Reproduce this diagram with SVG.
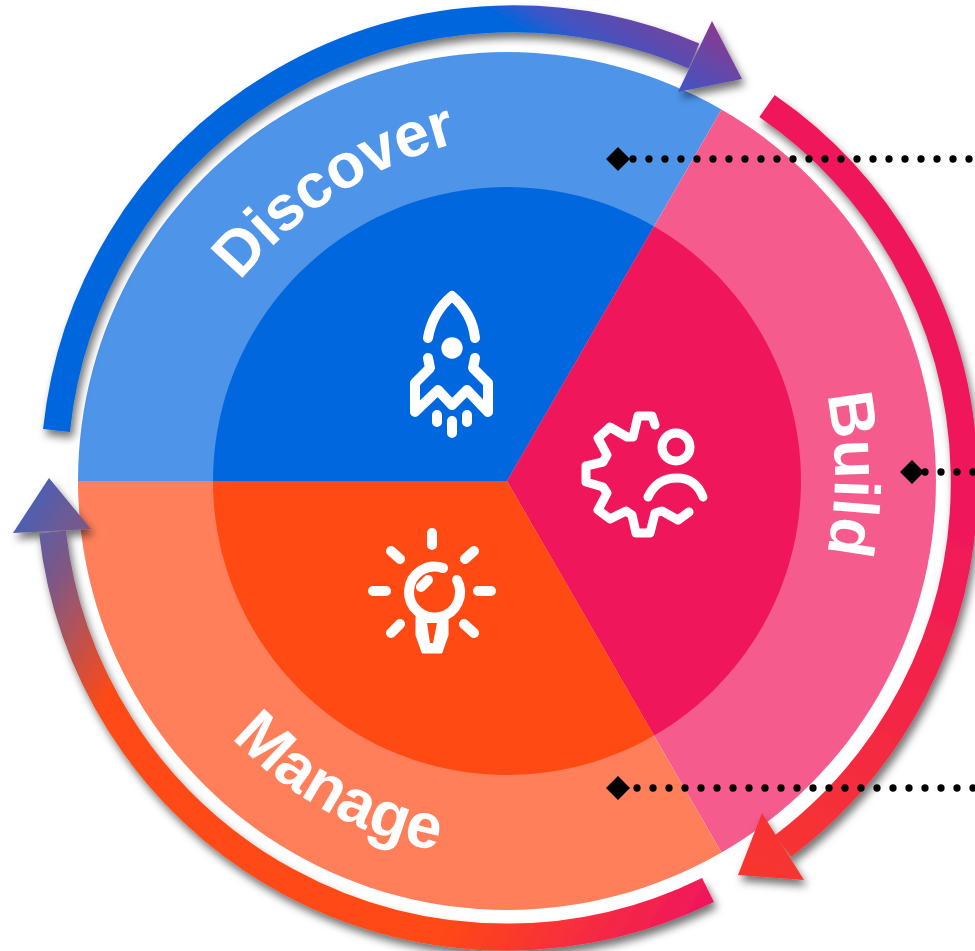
<svg xmlns="http://www.w3.org/2000/svg" width="975" height="951" viewBox="0 0 975 951">
<style>
.lbl{font-family:"Liberation Sans",Arial,sans-serif;font-weight:700;font-size:64px;fill:#fff}
.ic{fill:none;stroke:#fff;stroke-width:10;stroke-linecap:round;stroke-linejoin:round}
.dot{fill:none;stroke:#000;stroke-width:7.300;stroke-linecap:round;stroke-dasharray:0 16}
</style>
<defs>
<filter id="sh" x="-20%" y="-20%" width="140%" height="140%"><feDropShadow dx="3" dy="6" stdDeviation="4.500" flood-color="#000" flood-opacity=".55"/></filter>
<linearGradient id="gB" gradientUnits="userSpaceOnUse" x1="505" y1="20" x2="558" y2="-70"><stop offset="0" stop-color="#0066DD"/><stop offset=".25" stop-color="#3F55C5"/><stop offset="1" stop-color="#8A3A8E"/></linearGradient>
<linearGradient id="gR" gradientUnits="userSpaceOnUse" x1="900" y1="500" x2="740" y2="880"><stop offset="0" stop-color="#F0185C"/><stop offset="1" stop-color="#F7372D"/></linearGradient>
<linearGradient id="gM" gradientUnits="userSpaceOnUse" x1="708" y1="890" x2="40" y2="480"><stop offset="0" stop-color="#F0185C"/><stop offset=".27" stop-color="#FF4A14"/><stop offset=".78" stop-color="#FF4A14"/><stop offset=".92" stop-color="#7C5888"/><stop offset="1" stop-color="#4A5FB4"/></linearGradient>
<path id="tD" d="M152.900 460.200A420 420 0 0 1 652.100 138.600"/>
<path id="tB" d="M717.800 191.200A400 400 0 0 1 717.800 756.800"/>
<path id="tM" d="M131 491A376 376 0 0 0 703 802"/>
</defs>
<g id="discover">
<path d="M507 481L78 481A429 429 0 0 1 721.500 109.500Z" fill="#4E94E8"/>
<path d="M507 481L213 481A294 294 0 0 1 654 226.400Z" fill="#0067DF"/>
<text class="lbl" style="font-size:63px" letter-spacing="-.6"><textPath href="#tD" startOffset="50.300%" text-anchor="middle">Discover</textPath></text>
<g class="ic"><path d="M428 338C431 320 440 306 452 296C464 306 473 320 475 338"/><path d="M428 358L430 368L415 383V412L438 390L452 405L467 390L488 412V383L473 368L475 358"/><path d="M437 415V422M452 421V433M467 415V422"/></g>
<circle cx="452" cy="348" r="10.700" fill="#fff"/>
</g>
<g id="build">
<path d="M507 481L721.500 109.500A429 429 0 0 1 721.500 852.500Z" fill="#F55B8D"/>
<path d="M507 481L654 226.400A294 294 0 0 1 654 735.600Z" fill="#F0165C"/>
<text class="lbl"><textPath href="#tB" startOffset="50%" text-anchor="middle">Build</textPath></text>
<g class="ic" style="stroke-width:9"><path d="M655 425L652 416H638L633 437L627 437L610 427L598 438L607 455L603 462L586 466V482L603 487L607 493L598 510L610 519L626 511L632 515L636 533H650L655 513L662 511L678 520L689 512"/>
<circle cx="676" cy="447" r="14"/>
<path d="M648 497C654 484 664 478 677 478C689 478 698 484 703 497"/></g>
</g>
<g id="manage">
<path d="M507 481L721.500 852.500A429 429 0 0 1 78 481Z" fill="#FF7F5B"/>
<path d="M507 481L654 735.600A294 294 0 0 1 213 481Z" fill="#FF4A14"/>
<text class="lbl"><textPath href="#tM" startOffset="49.700%" text-anchor="middle">Manage</textPath></text>
<g class="ic"><path d="M432 533V545M391 551L400 559M474 551L465 559M373 591H386M478 591H491M391 633L400 624M474 633L464 624"/><path d="M443 568A25.500 25.500 0 1 0 457 580"/><path d="M421 587L428 580"/></g>
<path d="M417 617H447V635L441 652H423L417 635Z" fill="#fff" stroke="#fff" stroke-width="3" stroke-linejoin="round"/><path d="M427 623H437L433 643H430Z" fill="#FF4A14"/>
</g>
<g id="connectors">
<g filter="url(#sh)"><path d="M56.500 430.500A459 459 0 0 1 694 56" fill="none" stroke="url(#gB)" stroke-width="27"/><path d="M712 21L742 79L678 92Z" fill="url(#gB)"/></g>
<g filter="url(#sh)"><path d="M767 106A456.500 456.500 0 0 1 783 846" fill="none" stroke="url(#gR)" stroke-width="27"/><path d="M762 813L738 875L804 880Z" fill="url(#gR)"/></g>
<g filter="url(#sh)"><path d="M708 890A456.500 456.500 0 0 1 52.500 532" fill="none" stroke="url(#gM)" stroke-width="27"/><path d="M49 478L13 533L91 529Z" fill="url(#gM)"/></g>
<path class="dot" d="M633 159H975"/>
<path class="dot" d="M925 472H975"/>
<path class="dot" d="M637 788H975"/>
<path d="M618 147L630 159L618 171L606 159Z"/>
<path d="M912 460L924 472L912 484L900 472Z"/>
<path d="M618 776L630 788L618 800L606 788Z"/>
</g>
</svg>
